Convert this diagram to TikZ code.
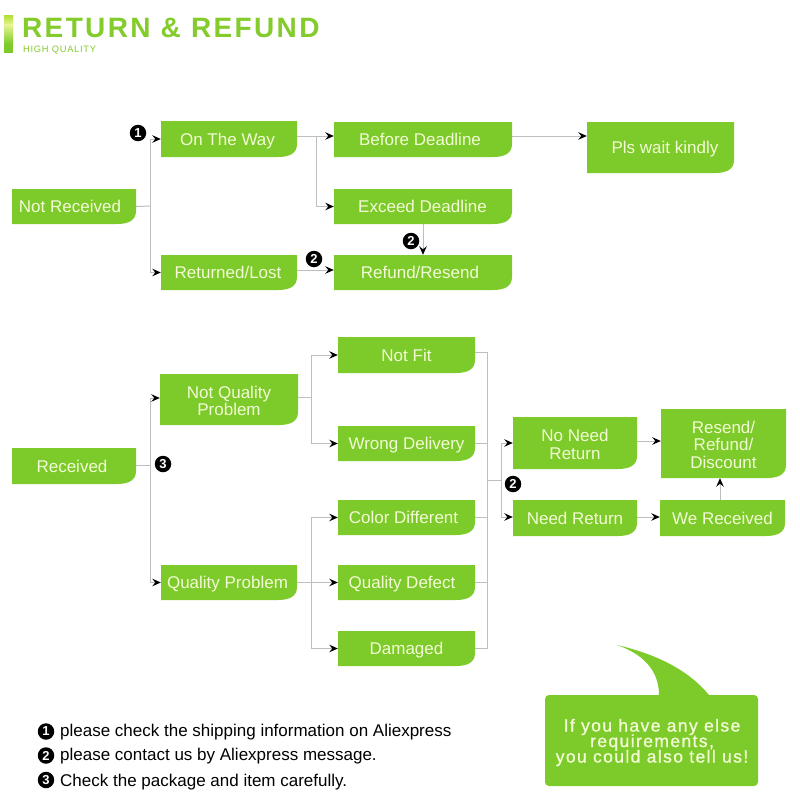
\documentclass[tikz,border=0pt]{standalone}
\usepackage{fontspec}
\setmainfont{Liberation Sans}
\usetikzlibrary{arrows.meta,calc}
\definecolor{leaf}{HTML}{7CCB2A}
\definecolor{pale}{HTML}{F3FBD6}
\definecolor{wire}{HTML}{BEBEBE}
\definecolor{headc}{HTML}{84CB2C}
\definecolor{barTop}{HTML}{B4E13C}
\definecolor{barMid}{HTML}{E4F490}
\tikzset{
  boxfill/.style={fill=leaf},
  boxtext/.style={inner sep=0pt,text=pale,align=center,font=\fontsize{17}{17.5}\selectfont},
  wireline/.style={draw=wire,line width=1pt},
  arrowline/.style={wireline,-{Stealth[black,length=8.5pt,width=7.5pt,inset=3pt]}},
  badge/.style={circle,fill=black,text=white,inner sep=0pt,minimum size=16.5pt,font=\fontsize{13}{13}\bfseries\selectfont},
  legendtext/.style={anchor=base west,inner sep=0pt,text=black,font=\fontsize{17}{17}\selectfont},
}
% one-line text: its capitals centred on the node, shifted sideways by #1
\newcommand{\oneline}[2]{\raisebox{-6.2pt}[0pt][0pt]{\kern#1pt #2}}
% several lines: a tall first line lowers the block a little
\newcommand{\toplift}{\rule{0pt}{15pt}}
% name, x0, y0, x1, y1, text
\newcommand{\flowbox}[6]{%
  \fill[boxfill] (#2,#3) -- (#4,#3) -- (#4,#5-13) .. controls (#4,#5-4) and (#4-7,#5) .. (#4-19,#5) -- (#2,#5) -- cycle;
  \node[boxtext,minimum width=#4pt-#2pt,minimum height=#5pt-#3pt] (#1) at ({(#2+#4)/2},{(#3+#5)/2}) {#6};
}
\begin{document}
\begin{tikzpicture}[x=1pt,y=-1pt]
\useasboundingbox (0,0) rectangle (800,800);
\fill[white] (0,0) rectangle (800,800);

% header
\shade[top color=barTop,bottom color=barMid] (4,16) rectangle (13,25);
\shade[top color=barMid,bottom color=leaf] (4,25) rectangle (13,44);
\fill[leaf] (4,44) rectangle (13,53);
\node[anchor=base west,inner sep=0pt,text=headc,font=\fontsize{28}{28}\bfseries\addfontfeature{LetterSpace=8.4}\selectfont] (title) at (22,37.5) {RETURN \& REFUND};
\node[anchor=base west,inner sep=0pt,text=headc,font=\fontsize{9.3}{10}\addfontfeature{LetterSpace=7.7}\selectfont] (sub) at (23,52.5) {HIGH QUALITY};

% upper flow
\flowbox{nr}{12}{189}{136}{224}{\oneline{-8}{Not Received}}
\flowbox{otw}{161}{121}{297}{157}{\oneline{-3}{On The Way}}
\flowbox{rl}{161}{255}{297}{290}{\oneline{-2}{Returned/Lost}}
\flowbox{bd}{334}{122}{512}{157}{\oneline{-6}{Before Deadline}}
\flowbox{ed}{334}{189}{512}{224}{\oneline{-1}{Exceed Deadline}}
\flowbox{rr}{334}{255}{512}{290}{\oneline{-6}{Refund/Resend}}
\flowbox{pw}{587}{122}{734}{173}{\oneline{9}{Pls wait kindly}}

\coordinate (j1) at (150,206);
\draw[wireline] (nr.east) -- (j1);
\draw[arrowline] (j1) |- (otw.west);
\draw[arrowline] (j1) |- (rl.west);
\coordinate (j2) at (316,136);
\draw[wireline] ($(otw.east)+(0,-3)$) -- (j2);
\draw[arrowline] (j2) -- ($(bd.west)+(0,-3.5)$);
\draw[arrowline] (j2) |- (ed.west);
\draw[arrowline] ($(bd.east)+(0,-3.5)$) -- ($(pw.west)+(0,-11.5)$);
\draw[arrowline] (ed.south) -- (rr.north);
\draw[arrowline] ($(rl.east)+(0,-2.5)$) -- ($(rr.west)+(0,-2.5)$);

\node[badge] (b1) at (138,133) {1};
\node[badge] (b2) at (314,259) {2};
\node[badge] (b3) at (411,241) {2};

% lower flow
\flowbox{rc}{12}{448}{136}{484}{\oneline{-4}{Received}}
\flowbox{nq}{160}{374}{298}{425}{\toplift Not Quality\\Problem}
\flowbox{qp}{161}{565}{297}{600}{\oneline{-3}{Quality Problem}}
\flowbox{nf}{338}{337}{475}{373}{\oneline{0}{Not Fit}}
\flowbox{wd}{338}{426}{475}{461}{\oneline{0}{Wrong Delivery}}
\flowbox{cd}{338}{500}{475}{535}{\oneline{-6}{Color Different}}
\flowbox{qd}{338}{565}{475}{600}{\oneline{-9}{Quality Defect}}
\flowbox{dm}{338}{631}{475}{666}{\oneline{0}{Damaged}}
\flowbox{nn}{513}{417}{637}{469}{\toplift No Need\\Return}
\flowbox{nr2}{513}{500}{637}{536}{\oneline{0}{Need Return}}
\flowbox{rs}{661}{409}{786}{478}{\toplift Resend/\\Refund/\\Discount}
\flowbox{wr}{660}{500}{785}{536}{\oneline{0}{We Received}}

\coordinate (j3) at (150,465);
\draw[wireline] ($(rc.east)+(0,-1)$) -- (j3);
\draw[arrowline] (j3) |- ($(nq.west)+(0,-1.5)$);
\draw[arrowline] (j3) |- (qp.west);
\coordinate (j4) at (311,397);
\draw[wireline] ($(nq.east)+(0,-2.5)$) -- (j4);
\draw[arrowline] (j4) |- (nf.west);
\draw[arrowline] (j4) |- (wd.west);
\coordinate (j5) at (311,582.5);
\draw[wireline] (qp.east) -- (j5);
\draw[arrowline] (j5) |- (cd.west);
\draw[arrowline] (j5) -- (qd.west);
\draw[arrowline] (j5) |- (dm.west);

\coordinate (j6) at (487,480);
\coordinate (j7) at (501,480);
\draw[wireline] ($(nf.east)+(0,-3)$) -| (j6);
\draw[wireline] ($(wd.east)+(0,-0.5)$) -| (j6);
\draw[wireline] (cd.east) -| (j6);
\draw[wireline] (qd.east) -| (j6);
\draw[wireline] (dm.east) -| (j6);
\draw[wireline] (j6) -- (j7);
\draw[arrowline] (j7) |- (nn.west);
\draw[arrowline] (j7) |- ($(nr2.west)+(0,-1)$);
\draw[arrowline] ($(nn.east)+(0,-2)$) -- ($(rs.west)+(0,-2.5)$);
\draw[arrowline] ($(nr2.east)+(0,-1)$) -- ($(wr.west)+(0,-1)$);
\draw[arrowline] ($(wr.north)+(-2.5,0)$) -- ($(rs.south)+(-3.5,0)$);

\node[badge] (b4) at (163,464) {3};
\node[badge] (b5) at (513,484) {2};

% legend
\node[badge] (l1) at (46,731.5) {1};
\node[legendtext] (t1) at (60,736.5) {please check the shipping information on Aliexpress};
\node[badge] (l2) at (46,755.5) {2};
\node[legendtext] (t2) at (60,760) {please contact us by Aliexpress message.};
\node[badge] (l3) at (46,780) {3};
\node[legendtext] (t3) at (60,786) {Check the package and item carefully.};

% speech bubble
\fill[leaf] (617,645) .. controls (640,653) and (659,668) .. (659,695) -- (709,695) .. controls (690,672) and (660,655) .. (617,645) -- cycle;
\fill[leaf,rounded corners=4pt] (545,695) rectangle (758,786);
\node[inner sep=0pt,text=pale,align=center,font={\fontsize{17.5}{15.5}\addfontfeature{LetterSpace=8,FakeBold=1}\selectfont\setlength{\lineskiplimit}{-20pt}}] (say) at (652,742.5) {If you have any else\\requirements,\\you could also tell us!};
\end{tikzpicture}
\end{document}
